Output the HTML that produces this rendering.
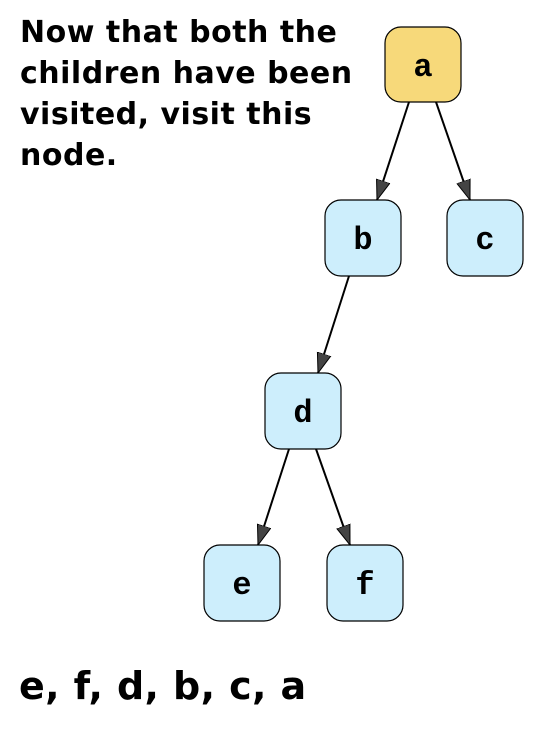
<!DOCTYPE html>
<html><head><style>
body{margin:0;width:558px;height:744px;background:#fff;overflow:hidden;position:relative}
.t{position:absolute;left:20px;top:12px;font:bold 30px/41px "DejaVu Sans",sans-serif;color:#000;letter-spacing:0.5px}
.b{position:absolute;left:19px;top:662px;font:bold 38px/48px "DejaVu Sans",sans-serif;color:#000;letter-spacing:0.4px}
</style></head><body>
<div class="t">Now that both the<br>children have been<br>visited, visit this<br>node.</div>
<svg width="558" height="744" style="position:absolute;left:0;top:0">
<defs><marker id="ar" markerWidth="22" markerHeight="16" refX="20" refY="8" orient="auto" markerUnits="userSpaceOnUse"><path d="M0,1 L20,8 L0,15 Z" fill="#444" stroke="#000" stroke-width="1"/></marker></defs>
<g stroke="#000" stroke-width="2" fill="none">
<line x1="409" y1="102" x2="377" y2="200" marker-end="url(#ar)"/>
<line x1="436" y1="102" x2="470" y2="200" marker-end="url(#ar)"/>
<line x1="349" y1="276" x2="318" y2="373" marker-end="url(#ar)"/>
<line x1="289" y1="449" x2="258" y2="545" marker-end="url(#ar)"/>
<line x1="316" y1="449" x2="350" y2="545" marker-end="url(#ar)"/>
</g>
<g stroke="#000" stroke-width="1.2">
<rect x="385" y="27" width="76" height="75" rx="16" fill="#f7d97a"/>
<rect x="325" y="200" width="76" height="76" rx="16" fill="#cdeefc"/>
<rect x="447" y="200" width="76" height="76" rx="16" fill="#cdeefc"/>
<rect x="265" y="373" width="76" height="76" rx="16" fill="#cdeefc"/>
<rect x="204" y="545" width="76" height="76" rx="16" fill="#cdeefc"/>
<rect x="327" y="545" width="76" height="76" rx="16" fill="#cdeefc"/>
</g>
<g text-anchor="middle" font-family="Liberation Mono, DejaVu Sans Mono, monospace" font-weight="bold" font-size="32">
<text x="423" y="76" style="font-family:'Liberation Mono',monospace">a</text>
<text x="363" y="249" style="font-family:'Liberation Mono',monospace">b</text>
<text x="485" y="249" style="font-family:'Liberation Mono',monospace">c</text>
<text x="303" y="422" style="font-family:'Liberation Mono',monospace">d</text>
<text x="242" y="594" style="font-family:'Liberation Mono',monospace">e</text>
<text x="365" y="594" style="font-family:'Liberation Mono',monospace">f</text>
</g>
</svg>
<div class="b">e, f, d, b, c, a</div>
</body></html>
